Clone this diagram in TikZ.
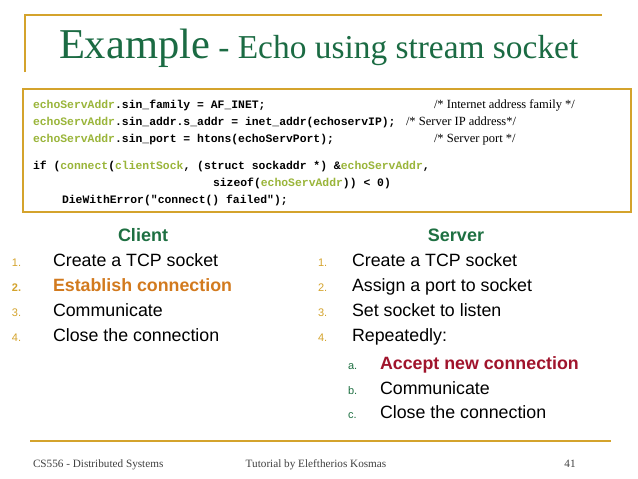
\documentclass[tikz,border=0pt]{standalone}
\usepackage{fontspec}
\setmainfont{Liberation Serif}
\newfontfamily\sansf{Liberation Sans}
\newfontfamily\monof{Liberation Mono}
\definecolor{gold}{HTML}{D4A32C}
\definecolor{tgreen}{HTML}{1B6B43}
\definecolor{hgreen}{HTML}{1E7042}
\definecolor{cg}{HTML}{9AB53A}
\definecolor{orng}{HTML}{D27A1E}
\definecolor{dred}{HTML}{A0142C}
\begin{document}
\begin{tikzpicture}[x=1pt,y=-1pt,
  every node/.style={inner sep=0pt,outer sep=0pt},
  code/.style={anchor=base west,font=\monof\bfseries\fontsize{11.4}{13}\selectfont},
  cmt/.style={anchor=base west,font=\fontsize{12.5}{14}\selectfont},
  item/.style={anchor=base west,font=\sansf\fontsize{17.8}{20}\selectfont},
  num/.style={anchor=base west,font=\sansf\fontsize{11}{12}\selectfont,text=gold},
  hdr/.style={anchor=base,font=\sansf\bfseries\fontsize{18}{20}\selectfont,text=hgreen},
  foot/.style={anchor=base,font=\fontsize{11.2}{13}\selectfont,text=black!75},
  rule/.style={draw=gold,line width=1.5pt}]
\useasboundingbox (0,0) rectangle (638,479);
\fill[white] (0,0) rectangle (638,479);
\draw[rule] (25,72) -- (25,15) -- (602,15);
\node[anchor=base west,text=tgreen] (title) at (59,58) {\fontsize{42.5}{44}\selectfont Example\fontsize{33.4}{36}\selectfont{} - Echo using stream socket};
\draw[gold,line width=1.8pt] (23,89) rectangle (631,212);
\node[code] (c1) at (33,108) {\textcolor{cg}{echoServAddr}.sin\_family = AF\_INET;};
\node[code] (c2) at (33,125) {\textcolor{cg}{echoServAddr}.sin\_addr.s\_addr = inet\_addr(echoservIP);};
\node[code] (c3) at (33,142) {\textcolor{cg}{echoServAddr}.sin\_port = htons(echoServPort);};
\node[code] (c4) at (33,169) {if (\textcolor{cg}{connect}(\textcolor{cg}{clientSock}, (struct sockaddr *) \&\textcolor{cg}{echoServAddr},};
\node[code] (c5) at (213,186) {sizeof(\textcolor{cg}{echoServAddr})) < 0)};
\node[code] (c6) at (62,203) {DieWithError("connect() failed");};
\node[cmt] (m1) at (434,108) {/* Internet address family */};
\node[cmt] (m2) at (406,125) {/* Server IP address*/};
\node[cmt] (m3) at (434,142) {/* Server port */};
\node[hdr] (ch) at (143,241) {Client};
\node[hdr] (sh) at (456,241) {Server};
\foreach \n/\t/\y in {1/Create a TCP socket/266,2/{\textbf{\textcolor{orng}{Establish connection}}}/291,3/Communicate/316,4/Close the connection/341}{
  \node[num] (cn\n) at (12,\y) {\ifnum\n=2 \textbf{\n.}\else\n.\fi};
  \node[item] (ct\n) at (53,\y) {\t};}
\foreach \n/\t/\y in {1/Create a TCP socket/266,2/Assign a port to socket/291,3/Set socket to listen/316,4/Repeatedly:/341}{
  \node[num] (sn\n) at (318,\y) {\n.};
  \node[item] (st\n) at (352,\y) {\t};}
\foreach \n/\t/\y in {a/{\textbf{\textcolor{dred}{Accept new connection}}}/369,b/Communicate/394,c/Close the connection/418}{
  \node[num,text=hgreen] (sl\n) at (348,\y) {\ifx\n a\textbf{\n.}\else\n.\fi};
  \node[item] (sx\n) at (380,\y) {\t};}
\draw[rule] (30,441) -- (611,441);
\node[foot,anchor=base west] (f1) at (33,467) {CS556 - Distributed Systems};
\node[foot] (f2) at (316,467) {Tutorial by Eleftherios Kosmas};
\node[foot] (f3) at (570,467) {41};
\end{tikzpicture}
\end{document}
